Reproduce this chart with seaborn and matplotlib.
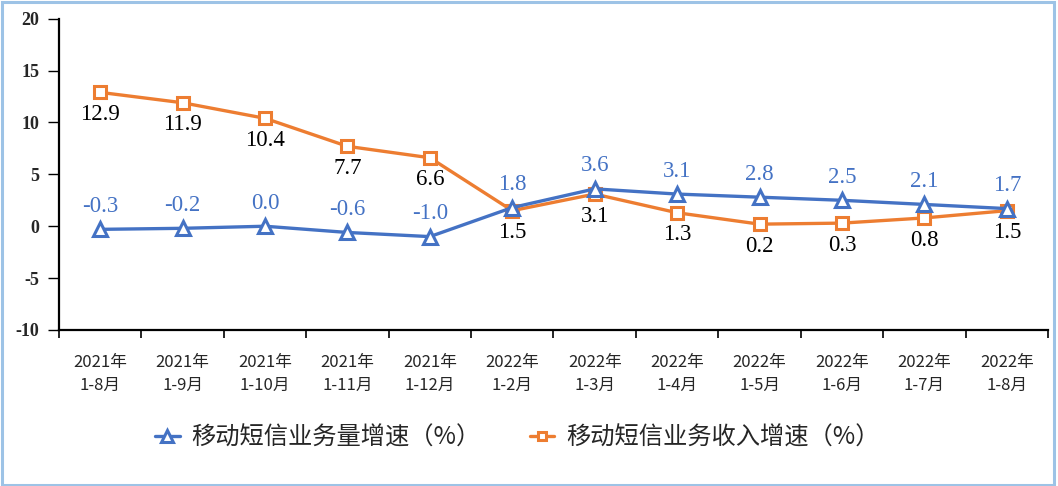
import matplotlib
matplotlib.use("Agg")
import matplotlib.pyplot as plt
import seaborn as sns
import pandas as pd
from matplotlib.patches import Rectangle
from matplotlib.ticker import FixedLocator

categories = ["2021年\n1-8月", "2021年\n1-9月", "2021年\n1-10月", "2021年\n1-11月",
              "2021年\n1-12月", "2022年\n1-2月", "2022年\n1-3月", "2022年\n1-4月",
              "2022年\n1-5月", "2022年\n1-6月", "2022年\n1-7月", "2022年\n1-8月"]
volume_growth = [-0.3, -0.2, 0.0, -0.6, -1.0, 1.8, 3.6, 3.1, 2.8, 2.5, 2.1, 1.7]
revenue_growth = [12.9, 11.9, 10.4, 7.7, 6.6, 1.5, 3.1, 1.3, 0.2, 0.3, 0.8, 1.5]
series_names = ["移动短信业务量增速（%）", "移动短信业务收入增速（%）"]
yticks = [-10, -5, 0, 5, 10, 15, 20]

sns.set_theme(style="white")
plt.rcParams['font.family'] = ['Liberation Serif', 'Noto Sans CJK SC', 'DejaVu Sans']

blue = "#4472C4"
orange = "#ED7D31"

fig = plt.figure(figsize=(10.58, 4.86), dpi=100)
ax = fig.add_axes([0.0558, 0.321, 0.9347, 0.6405])

idx = list(range(len(categories)))
df = pd.DataFrame({"x": idx, "vol": volume_growth, "rev": revenue_growth})

sns.lineplot(data=df, x="x", y="rev", ax=ax, color=orange, linewidth=2.4,
             marker="s", markersize=8, markerfacecolor="white",
             markeredgecolor=orange, markeredgewidth=2.2, label=series_names[1], zorder=3)
sns.lineplot(data=df, x="x", y="vol", ax=ax, color=blue, linewidth=2.4,
             marker="^", markersize=10, markerfacecolor="white",
             markeredgecolor=blue, markeredgewidth=2.2, label=series_names[0], zorder=4)

for i, v in enumerate(volume_growth):
    ax.annotate(f"{v:.1f}", (i, v), xytext=(0, 16.5), textcoords="offset points",
                ha="center", va="center", fontsize=16.5, color=blue,
                family=['Liberation Serif'])
for i, v in enumerate(revenue_growth):
    ax.annotate(f"{v:.1f}", (i, v), xytext=(0, -16), textcoords="offset points",
                ha="center", va="center", fontsize=16.5, color="black",
                family=['Liberation Serif'])

ax.set_xlim(-0.5, len(categories) - 0.5)
ax.set_ylim(-10, 20)
ax.set_yticks(yticks)
ax.set_yticklabels([str(t) for t in yticks], fontsize=13, fontweight="bold",
                   family=['Liberation Serif'])
ax.set_xticks(idx)
ax.set_xticklabels(categories, fontsize=12, family=['Noto Sans CJK SC', 'DejaVu Sans'],
                   linespacing=1.45)
ax.xaxis.set_minor_locator(FixedLocator([i - 0.5 for i in range(len(categories) + 1)]))
ax.tick_params(axis="x", which="major", length=0, pad=17, bottom=False)
ax.tick_params(axis="x", which="minor", length=6, width=1.2, color="black",
               direction="out", bottom=True)
ax.tick_params(axis="y", which="major", length=8, width=1.0, color="black",
               direction="out", left=True, pad=6)
ax.set_xlabel("")
ax.set_ylabel("")

for s in ["top", "right"]:
    ax.spines[s].set_visible(False)
for s in ["left", "bottom"]:
    ax.spines[s].set_color("black")
    ax.spines[s].set_linewidth(1.6)

ax.get_legend().remove()
handles, labels = ax.get_legend_handles_labels()
order = [labels.index(series_names[0]), labels.index(series_names[1])]
leg = fig.legend([handles[k] for k in order], [labels[k] for k in order],
                 loc="center", bbox_to_anchor=(0.489, 0.099), ncol=2, frameon=False,
                 prop={'family': ['Noto Sans CJK SC', 'DejaVu Sans'], 'size': 17.5},
                 handlelength=1.0, columnspacing=2.0, handletextpad=0.5,
                 markerscale=0.8)

fig.patches.append(Rectangle((0.002, 0.003), 0.994, 0.993, transform=fig.transFigure,
                             fill=False, edgecolor="#9DC3E6", linewidth=2.2))

fig.savefig("out.png", dpi=100)
